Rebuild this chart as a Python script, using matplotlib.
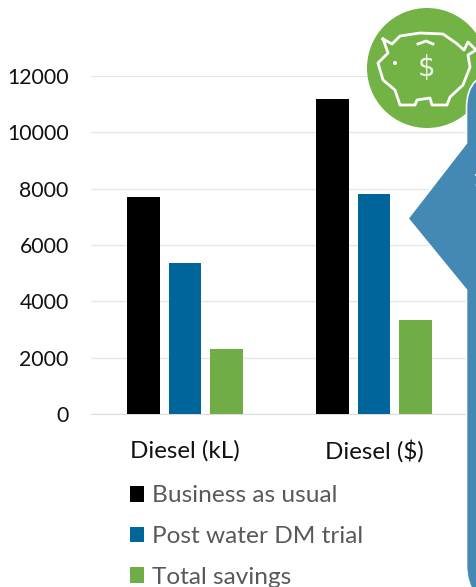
import matplotlib
matplotlib.use("Agg")
import matplotlib.pyplot as plt
from matplotlib.patches import Circle, PathPatch
from matplotlib.path import Path
import numpy as np

categories = ["Diesel (kL)", "Diesel ($)"]
series_names = ["Business as usual", "Post water DM trial", "Total savings"]
business = [7700, 11180]
post_trial = [5360, 7810]
savings = [2320, 3350]
y_ticks = [0, 2000, 4000, 6000, 8000, 10000, 12000]
colors = ["#000000", "#00659B", "#70AD47"]

W, H = 477, 587
plt.rcParams["font.family"] = ["Lato", "DejaVu Sans"]
fig = plt.figure(figsize=(W / 100, H / 100), dpi=100, facecolor="white")

# main chart axes, placed in pixels
L, R, T, B = 91, 468, 76, 414
ax = fig.add_axes([L / W, 1 - B / H, (R - L) / W, (B - T) / H])
x = np.arange(len(categories))
bw = 0.171
off = 0.2195
for i, vals in enumerate([business, post_trial, savings]):
    ax.bar(x + (i - 1) * off, vals, bw, color=colors[i], zorder=3, label=series_names[i])
ax.set_xlim(-0.4974, 1.4974)
ax.set_ylim(0, 12000)
ax.set_yticks(y_ticks)
ax.set_xticks(x, categories)
ax.grid(axis="y", color="#E6E6E6", lw=1, zorder=0)
ax.set_axisbelow(True)
for s in ["top", "left", "right"]:
    ax.spines[s].set_visible(False)
ax.spines["bottom"].set_color("#DDDDDD")
ax.tick_params(axis="both", length=0)
ax.tick_params(axis="y", labelsize=15.3, labelcolor="#111111", pad=16)
ax.tick_params(axis="x", labelsize=17.4, labelcolor="#111111", pad=18.5)

# legend, stacked below the axis
handles, labels = ax.get_legend_handles_labels()
leg = fig.legend(handles, labels, loc="upper left", bbox_to_anchor=(129.5 / W, 1 - 485.5 / H),
                 bbox_transform=fig.transFigure, frameon=False, fontsize=17.6,
                 labelcolor="#595959", handlelength=0.61, handleheight=0.61,
                 handletextpad=0.29, labelspacing=0.80, borderpad=0, borderaxespad=0)

# overlay in pixel coordinates for the pasted icon and callout
ov = fig.add_axes([0, 0, 1, 1], facecolor="none")
ov.set_xlim(0, W)
ov.set_ylim(H, 0)
ov.axis("off")
ov.add_patch(Circle((427, 68), 60, fc="#73B244", ec="none"))

pig = [(383, 39), (392, 44), (400, 36), (420, 33), (443, 34), (456, 43), (464, 50),
       (468, 42), (476, 50), (468, 55), (470, 67), (463, 85), (450, 97), (447, 105),
       (432, 105), (430, 98), (417, 100), (415, 105), (400, 105), (395, 90), (383, 80),
       (378, 63), (388, 53), (383, 39)]
ov.plot(*zip(*pig), color="white", lw=2.0, solid_joinstyle="round")
ov.plot([418, 426, 433], [44, 41, 44], color="white", lw=2.0)
ov.add_patch(Circle((395, 63), 2, fc="white", ec="none"))
ov.text(427, 68, "$", color="white", fontsize=20, ha="center", va="center",
        family="DejaVu Sans", alpha=0.85)

# callout: rounded box with a left-pointing tip, running off the figure
rt, rb = 36, 40
top, bot, xl, xr = 72, 605, 466.5, 520
verts = [(xl + rt, top), (xl, top), (xl, top + rt), (xl, 143), (408, 218.5), (xl, 290),
         (xl, bot - rb), (xl, bot), (xl + rb, bot), (xr, bot), (xr, top), (xl + rt, top)]
codes = [Path.MOVETO, Path.CURVE3, Path.CURVE3, Path.LINETO, Path.LINETO, Path.LINETO,
         Path.LINETO, Path.CURVE3, Path.CURVE3, Path.LINETO, Path.LINETO, Path.CLOSEPOLY]
ov.add_patch(PathPatch(Path(verts, codes), fc="#4389B3", ec="white", lw=1.2, joinstyle="miter"))
ov.text(472.5, 180, "1", color="white", fontsize=15, ha="left", va="center", clip_on=True)

fig.savefig("out.png", dpi=100)
